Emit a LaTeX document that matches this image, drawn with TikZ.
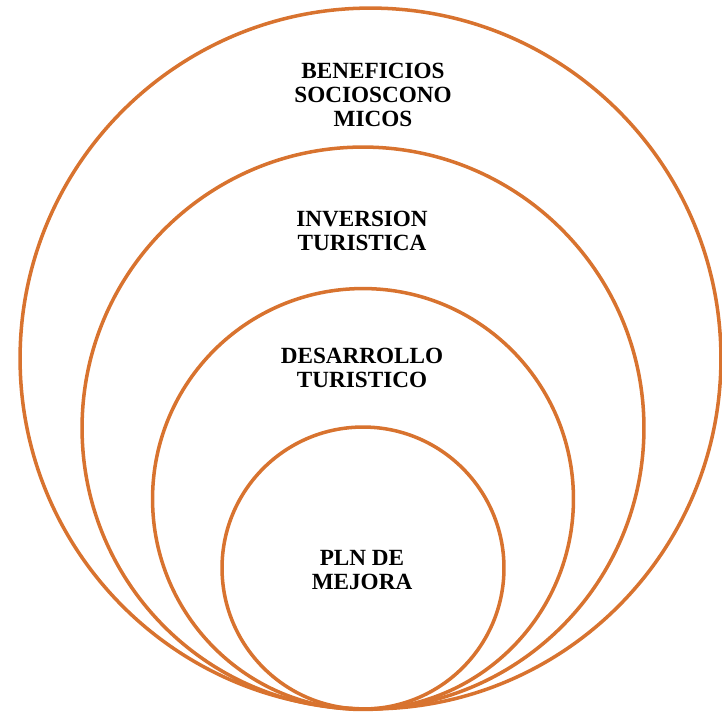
\documentclass[tikz,border=0pt]{standalone}
\usepackage{fontspec}
\setmainfont{Liberation Serif}
\usepackage{xcolor}
\definecolor{ringorange}{HTML}{D8732F}

\begin{document}
\begin{tikzpicture}[
    x=0.02cm, y=-0.02cm,
    ring/.style={circle, draw=ringorange, line width=2pt, minimum size=#1, inner sep=0pt},
    label/.style={align=center, font=\fontsize{13.2}{13.9}\selectfont\bfseries},
]
\useasboundingbox (0,0) rectangle (722,711);

% Nested circles, touching at the bottom
\node[ring=14.02cm] (outer) at (370.5,358.5) {};
\node[ring=11.24cm] (second) at (363,428) {};
\node[ring=8.42cm] (third) at (363,499) {};
\node[ring=5.64cm] (inner) at (363,568) {};

% Labels
\node[label] (beneficios) at (373,95) {BENEFICIOS\\SOCIOSCONO\\MICOS};
\node[label] (inversion) at (362,231) {INVERSION\\TURISTICA};
\node[label] (desarrollo) at (362,368) {DESARROLLO\\TURISTICO};
\node[label] (plan) at (362,570) {PLN DE\\MEJORA};

\end{tikzpicture}
\end{document}
